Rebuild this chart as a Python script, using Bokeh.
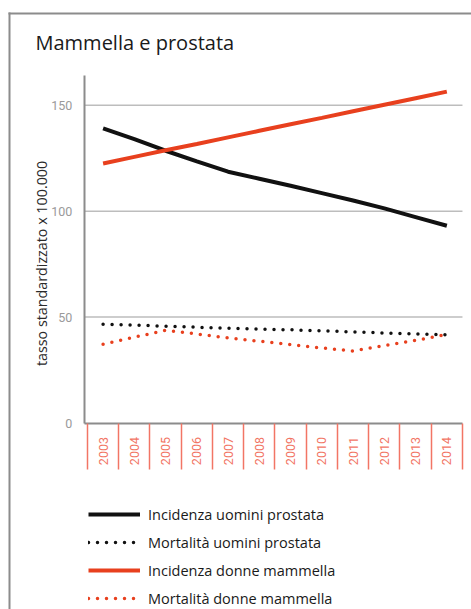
import math
from bokeh.plotting import figure
from bokeh.models import Range1d, FixedTicker, Legend, LegendItem, Label, BoxAnnotation
from bokeh.embed import file_html
from bokeh.resources import INLINE

# ---- data ----
years = ["2003", "2004", "2005", "2006", "2007", "2008",
         "2009", "2010", "2011", "2012", "2013", "2014"]
inc_uomini_prostata = [139.1, 134.0, 128.5, 123.5, 118.6, 115.3, 112.0, 108.5, 105.0, 101.3, 97.2, 93.1]
mort_uomini_prostata = [46.6, 46.2, 45.7, 45.2, 44.7, 44.3, 44.0, 43.5, 43.0, 42.5, 42.0, 41.7]
inc_donne_mammella = [122.5, 125.6, 128.7, 131.7, 134.8, 137.9, 141.0, 144.0, 147.1, 150.2, 153.3, 156.4]
mort_donne_mammella = [37.2, 40.5, 43.8, 42.0, 40.2, 38.6, 37.0, 35.4, 34.0, 36.5, 39.0, 41.8]
y_ticks = [0, 50, 100, 150]
series_names = ["Incidenza uomini prostata", "Mortalità uomini prostata",
                "Incidenza donne mammella", "Mortalità donne mammella"]
title_text = "Mammella e prostata"
y_label_text = "tasso standardizzato x 100.000"

x = list(range(len(years)))

BLACK = "#111111"
RED = "#e8401e"
SALMON = "#f27565"
GRAY = "#8c8c8c"
FONT = "Open Sans"

# axis extents (data units)
X_LO, X_HI = -0.6, len(years) - 0.5
Y_LO, Y_HI = 0, 164

p = figure(width=471, height=609, output_backend="svg", toolbar_location=None,
           x_range=Range1d(-3.283, 11.789), y_range=Range1d(-88.0, 199.4),
           min_border=0)
p.title.text = ""
p.outline_line_color = None
p.background_fill_color = "white"
p.border_fill_color = "white"
p.xgrid.grid_line_color = None
p.ygrid.grid_line_color = None

# outer frame: top and left rules (thin filled boxes reaching the canvas edges)
p.add_layout(BoxAnnotation(left=-3.027, top=193.75, bottom=192.8,
                           fill_color=GRAY, fill_alpha=1, line_color=None, level="underlay"))
p.add_layout(BoxAnnotation(left=-3.027, right=-2.963, top=193.75,
                           fill_color=GRAY, fill_alpha=1, line_color=None, level="underlay"))

# horizontal grid lines
grid_y = [t for t in y_ticks if t > 0]
p.segment(x0=[X_LO] * len(grid_y), x1=[X_HI] * len(grid_y), y0=grid_y, y1=grid_y,
          line_color="#bdbdbd", line_width=1.5)

# series
r1 = p.line(x, inc_uomini_prostata, line_color=BLACK, line_width=4)
r2 = p.line(x, mort_uomini_prostata, line_color=BLACK, line_width=3.5, line_dash="0 9", line_cap="round")
r3 = p.line(x, inc_donne_mammella, line_color=RED, line_width=4)
r4 = p.line(x, mort_donne_mammella, line_color=RED, line_width=3.5, line_dash="0 9", line_cap="round")

# x axis
xa = p.xaxis[0]
xa.fixed_location = 0
xa.bounds = (X_LO, X_HI)
xa.ticker = FixedTicker(ticks=x, minor_ticks=[i - 0.5 for i in range(len(years) + 1)])
xa.major_label_overrides = {i: y for i, y in zip(x, years)}
xa.major_label_orientation = math.pi / 2
xa.major_label_text_color = SALMON
xa.major_label_text_font = "Roboto"
xa.major_label_text_font_size = "12.5px"
xa.major_label_standoff = -32
xa.major_tick_line_color = None
xa.major_tick_out = 0
xa.major_tick_in = 0
xa.minor_tick_line_color = SALMON
xa.minor_tick_line_width = 1.5
xa.minor_tick_out = 46
xa.minor_tick_in = 0
xa.axis_line_color = GRAY
xa.axis_line_width = 2

# y axis
ya = p.yaxis[0]
ya.fixed_location = X_LO
ya.bounds = (Y_LO, Y_HI)
ya.ticker = FixedTicker(ticks=y_ticks)
ya.major_label_text_color = "#9a9a9a"
ya.major_label_text_font = "Roboto"
ya.major_label_text_font_size = "12.5px"
ya.major_label_standoff = 6
ya.major_tick_line_color = None
ya.minor_tick_line_color = None
ya.axis_line_color = GRAY
ya.axis_line_width = 2

# y axis title
p.add_layout(Label(x=-1.971, y=75.3, text=y_label_text, angle=math.pi / 2,
                   text_align="center", text_baseline="middle",
                   text_font=FONT, text_font_size="14.3px", text_color="#2a2a2a"))

# chart title
p.add_layout(Label(x=-2.163, y=179.6, text=title_text, text_align="left",
                   text_baseline="alphabetic", text_font=FONT, text_font_size="20px",
                   text_color="#1a1a1a"))

legend = Legend(items=[LegendItem(label=n, renderers=[r]) for n, r in zip(series_names, [r1, r2, r3, r4])],
                location=(88, 1), orientation="vertical")
legend.border_line_color = None
legend.background_fill_alpha = 0
legend.padding = 0
legend.margin = 0
legend.spacing = 8
legend.label_height = 20
legend.glyph_height = 20
legend.glyph_width = 52
legend.label_standoff = 8
legend.label_text_font = FONT
legend.label_text_font_size = "14.5px"
legend.label_text_color = "#1a1a1a"
p.add_layout(legend, "center")

open("out.html", "w").write(file_html(p, INLINE))
